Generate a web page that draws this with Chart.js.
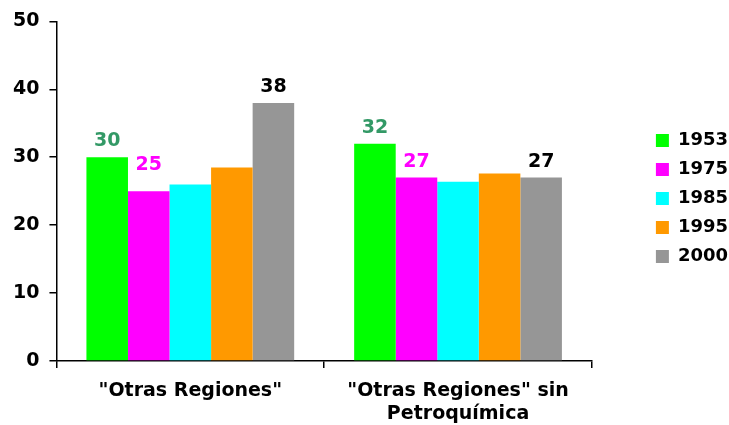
<!DOCTYPE html>
<html>
<head>
<meta charset="utf-8">
<script src="https://cdn.jsdelivr.net/npm/chart.js@4"></script>
<style>
  html, body { margin: 0; padding: 0; background: #fff; }
  #box { width: 729px; height: 425px; }
</style>
</head>
<body>
<div id="box"><canvas id="grafico"></canvas></div>
<script>
// categorias e series
const categorias = ['"Otras Regiones"', ['"Otras Regiones" sin', 'Petroquímica']];
const anos = ['1953', '1975', '1985', '1995', '2000'];
const v1953 = [30, 32];
const v1975 = [25, 27];
const v1985 = [26, 26.4];
const v1995 = [28.5, 27.6];
const v2000 = [38, 27];
const marcasY = [0, 10, 20, 30, 40, 50];

const cores = ['#00ff00', '#ff00ff', '#00ffff', '#ff9900', '#969696'];
// cor do rotulo de valor de cada serie (null = sem rotulo)
const coresRotulo = ['#339966', '#ff00ff', null, null, '#000000'];

const fonte = 'DejaVu Sans, Verdana, sans-serif';

const series = [v1953, v1975, v1985, v1995, v2000];
const datasets = [];
for (let i = 0; i < series.length; i++) {
  datasets.push({
    label: anos[i],
    data: series[i],
    backgroundColor: cores[i],
    borderWidth: 0,
    categoryPercentage: 0.776,
    barPercentage: 1.0,
    rotulo: coresRotulo[i]
  });
}

// escreve o valor em cima das barras
const rotulos = {
  id: 'rotulos',
  afterDatasetsDraw(chart) {
    const ctx = chart.ctx;
    ctx.save();
    ctx.font = 'bold 19px ' + fonte;
    ctx.textAlign = 'center';
    ctx.textBaseline = 'middle';
    chart.data.datasets.forEach(function(ds, i) {
      if (!ds.rotulo) return;
      chart.getDatasetMeta(i).data.forEach(function(barra, j) {
        let dy = 16;
        if (i == 1 && j == 0) dy = 26;
        ctx.fillStyle = ds.rotulo;
        ctx.fillText(String(ds.data[j]), barra.x, barra.y - dy);
      });
    });
    ctx.restore();
  }
};

// afasta a legenda do grafico
const moveLegenda = {
  id: 'moveLegenda',
  afterLayout(chart) {
    const lg = chart.legend;
    lg.left += 53; lg.right += 53;
    lg.top -= 23; lg.bottom -= 23;
  }
};

Chart.defaults.font.family = fonte;
Chart.defaults.color = '#000';

new Chart(document.getElementById('grafico'), {
  type: 'bar',
  data: { labels: categorias, datasets: datasets },
  options: {
    responsive: true,
    maintainAspectRatio: false,
    animation: false,
    layout: { padding: { left: 3, top: 20, right: 44, bottom: 2 } },
    plugins: {
      legend: {
        position: 'right',
        labels: {
          boxWidth: 13,
          boxHeight: 13,
          padding: 11,
          color: '#000',
          font: { size: 18, weight: 'bold' }
        }
      },
      tooltip: { enabled: false }
    },
    scales: {
      x: {
        afterFit(axis) {
          axis.height = 62;
        },
        grid: {
          drawOnChartArea: false,
          offset: true,
          tickLength: 7,
          color: '#000',
          lineWidth: 1.5
        },
        border: { color: '#000', width: 1.5 },
        ticks: {
          padding: 11,
          color: '#000',
          maxRotation: 0,
          font: { size: 19, weight: 'bold', lineHeight: 1.22 }
        }
      },
      y: {
        min: 0,
        max: 50,
        afterBuildTicks(axis) {
          axis.ticks = marcasY.map(v => ({ value: v }));
        },
        grid: {
          drawOnChartArea: false,
          tickLength: 7,
          color: '#000',
          lineWidth: 1.5
        },
        border: { color: '#000', width: 1.5 },
        ticks: {
          padding: 10,
          color: '#000',
          font: { size: 19, weight: 'bold' }
        }
      }
    }
  },
  plugins: [rotulos, moveLegenda]
});
</script>
</body>
</html>
